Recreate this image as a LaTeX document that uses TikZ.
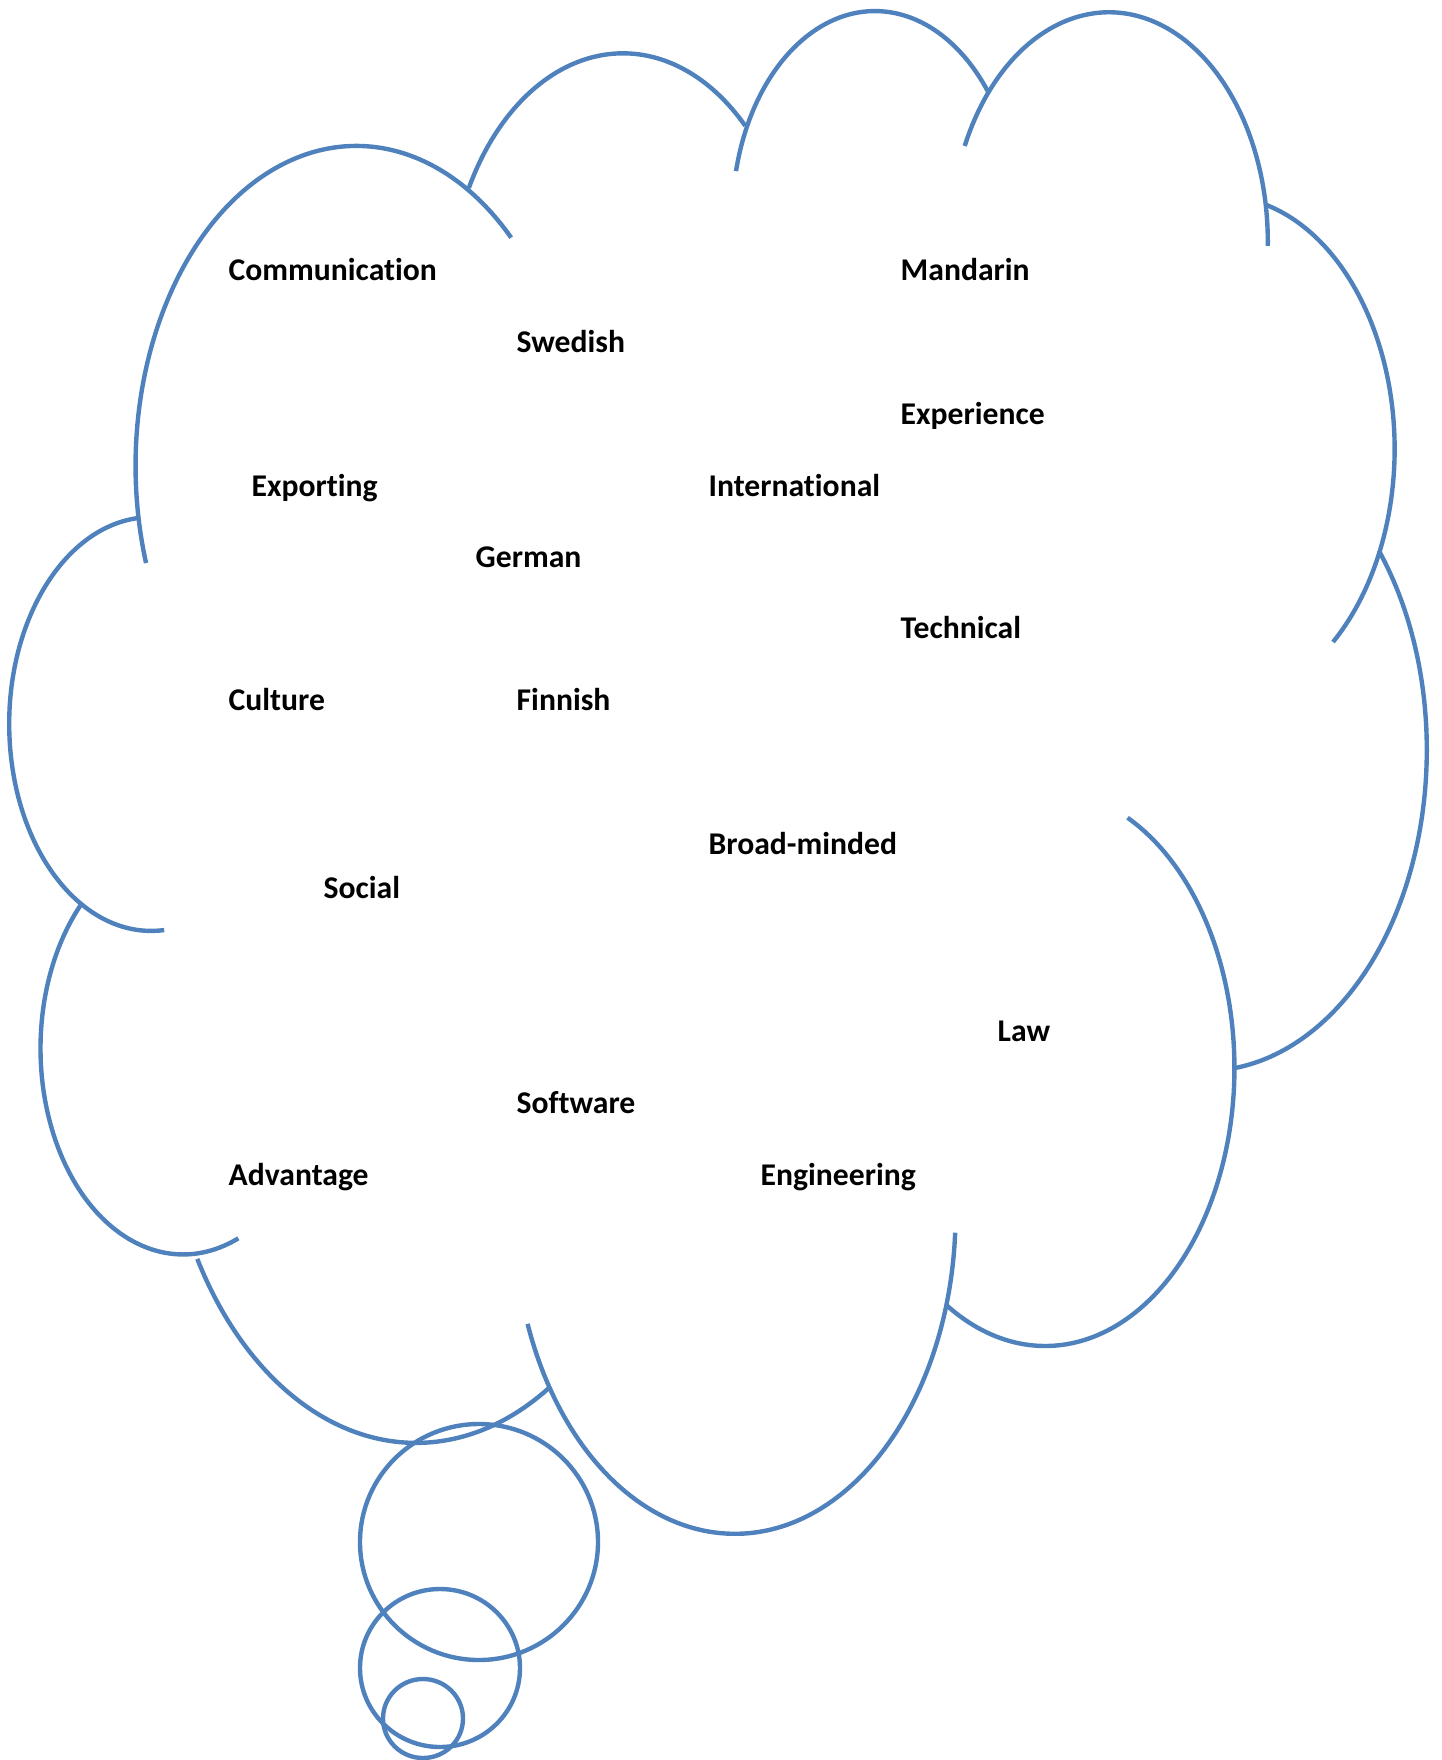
\documentclass[tikz,border=0pt]{standalone}
\usepackage{fontspec}
\setmainfont{Carlito}[Ligatures=NoCommon]
\definecolor{cloudblue}{RGB}{79,129,189}

\begin{document}
\begin{tikzpicture}[x=0.01cm,y=0.01cm,
lobe/.style={draw=cloudblue,line width=1.25pt},
word/.style={anchor=base west,inner sep=0pt,font=\fontsize{9}{11}\selectfont\bfseries},
>=latex]

\useasboundingbox (0,0) rectangle (1442,-1760);

% cloud outline, one arc per lobe: centre / radii / start and end angle
\foreach \cx/\cy/\rx/\ry/\ta/\tb in {
356.4/465.8/220.8/319.9/197.7/45.5,
623/306.2/174.4/252.9/152.1/45.5,
875/218/142.7/206.9/166.9/37.7,
1109/241.8/158.8/229.5/155.3/-1,
1220.2/449/174.4/253.1/74.5/-49.7,
1205.3/750/221.5/320.9/38.4/-83,
1045.2/1068/189.2/278/64.2/-121.6,
734.8/1213.1/220.8/320.7/-3.5/-159.8,
416.1/1076/252.4/366.9/-58.1/-150.1,
183.1/1048.4/142.6/206/-67.2/-224.4,
151.3/724/142.1/206.9/-84.8/-264.6}
\draw[lobe] (\cx,-\cy) ++(\ta:{\rx} and {\ry}) arc[start angle=\ta,end angle=\tb,x radius=\rx,y radius=\ry];

% thought bubbles
\draw[lobe] (479,-1542) ellipse [x radius=119,y radius=118];
\draw[lobe] (440,-1668) ellipse [x radius=80,y radius=79];
\draw[lobe] (423,-1718.5) ellipse [x radius=40,y radius=39.5];

% words
\foreach \nm/\x/\y/\txt in {
comm/228/280/Communication,
swed/516/352/Swedish,
mand/900/280/Mandarin,
expe/900/424/Experience,
expo/251/496/Exporting,
intl/708/496/International,
germ/475/567/German,
tech/900/638/Technical,
cult/228/710/Culture,
finn/516/710/Finnish,
broad/708/854/Broad-minded,
soc/323/898/Social,
law/997/1041/Law,
soft/516/1113/Software,
adv/228/1185/Advantage,
eng/760/1185/Engineering}
\node[word] (\nm) at (\x,-\y) {\txt};

\end{tikzpicture}
\end{document}
